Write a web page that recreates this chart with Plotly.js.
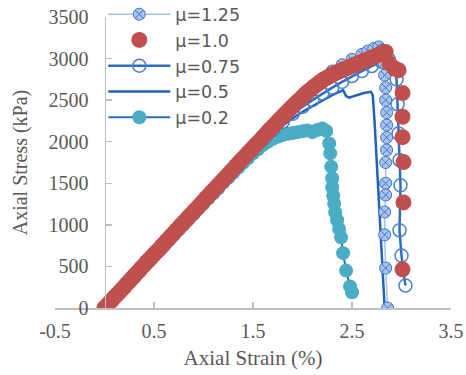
<!DOCTYPE html>
<html>
<head>
<meta charset="utf-8">
<script src="https://cdn.plot.ly/plotly-3.0.1.min.js"></script>
<style>html,body{margin:0;padding:0;background:#fff;}#chart{width:466px;height:375px;}</style>
</head>
<body>
<div id="chart"></div>
<script>
// ---- data (strain %, axial stress kPa) ----
const mu125_x = [0.00,0.10,0.20,0.30,0.40,0.50,0.60,0.70,0.80,0.90,1.00,1.10,1.20,1.30,1.40,1.50,1.60,1.70,1.80,1.90,2.00,2.10,2.20,2.30,2.40,2.50,2.60,2.66,2.72,2.77,2.80,2.82,2.83,2.84,2.84,2.85,2.85,2.85,2.85,2.84,2.84,2.84,2.83,2.83,2.84,2.86];
const mu125_y = [0,130,260,390,520,650,780,905,1035,1165,1290,1420,1550,1680,1805,1935,2060,2185,2310,2430,2550,2660,2760,2850,2925,2990,3050,3090,3120,3140,3100,2950,2800,2650,2500,2350,2200,2050,1900,1750,1500,1360,1155,880,480,0];

const mu10_x = [0.000,0.025,0.050,0.075,0.100,0.125,0.150,0.175,0.200,0.225,0.250,0.275,0.300,0.325,0.350,0.375,0.400,0.425,0.450,0.475,
  0.500,0.525,0.550,0.575,0.600,0.625,0.650,0.675,0.700,0.725,0.750,0.775,0.800,0.825,0.850,0.875,0.900,0.925,0.950,0.975,
  1.000,1.025,1.050,1.075,1.100,1.125,1.150,1.175,1.200,1.225,1.250,1.275,1.300,1.325,1.350,1.375,1.400,1.425,1.450,1.475,
  1.500,1.525,1.550,1.575,1.600,1.625,1.650,1.675,1.700,1.725,1.750,1.775,1.800,1.825,1.850,1.875,1.900,1.925,1.950,1.975,
  2.000,2.025,2.050,2.075,2.100,2.125,2.150,2.175,2.200,2.225,2.250,2.275,2.300,2.325,2.350,2.375,2.400,2.425,2.450,2.475,
  2.500,2.525,2.550,2.575,2.600,2.625,2.650,2.675,2.700,2.725,2.750,2.775,2.800,2.820,2.840,
  2.880,2.930,2.970,3.010,3.010,3.010,3.020,3.020,3.010];
const mu10_y = [0,30,65,95,130,160,190,225,255,290,320,355,385,420,450,485,515,550,580,610,
  645,675,705,740,770,805,835,870,900,935,965,1000,1030,1060,1095,1125,1160,1190,1220,1255,
  1285,1320,1350,1385,1415,1445,1480,1510,1545,1575,1605,1640,1670,1705,1735,1770,1800,1830,1865,1895,
  1925,1960,1990,2020,2055,2085,2120,2150,2180,2210,2245,2275,2305,2335,2365,2395,2425,2455,2485,2510,
  2540,2570,2595,2620,2645,2670,2690,2715,2735,2755,2770,2790,2805,2820,2835,2850,2860,2875,2885,2900,
  2910,2925,2935,2950,2960,2975,2985,3000,3010,3025,3035,3050,3060,3070,3080,
  2940,2880,2860,2585,2300,2055,1755,1270,465];

const mu075_x = [0.00,0.10,0.20,0.30,0.40,0.50,0.60,0.70,0.80,0.90,1.00,1.10,1.20,1.30,1.40,1.50,1.60,1.70,1.80,1.90,2.00,2.10,2.20,2.30,2.40,2.50,2.60,2.70,2.80,2.87,2.92,2.95,2.96,2.97,2.98,2.99,2.98,3.00,3.04];
const mu075_y = [0,128,257,385,514,642,771,899,1028,1156,1285,1413,1540,1665,1790,1910,2025,2135,2240,2335,2420,2500,2580,2650,2720,2790,2850,2910,2960,2990,2900,2750,2450,2100,1780,1475,935,630,270];

const mu05_x = [0.00,0.20,0.40,0.60,0.80,1.00,1.20,1.40,1.60,1.70,1.80,1.90,2.00,2.10,2.20,2.30,2.41,2.44,2.47,2.55,2.62,2.69,2.71,2.73,2.76,2.79,2.81,2.83];
const mu05_y = [0,257,514,771,1028,1283,1538,1785,2010,2110,2200,2280,2360,2430,2500,2560,2620,2550,2530,2560,2585,2600,2560,2200,1540,900,450,0];

const mu02_x = [0.00,0.05,0.10,0.15,0.20,0.25,0.30,0.35,0.40,0.45,0.50,0.55,0.60,0.65,0.70,0.75,0.80,0.85,0.90,0.95,1.00,1.05,1.10,1.15,1.20,1.25,1.30,1.35,1.40,1.45,1.50,1.55,1.60,1.65,1.70,1.75,1.80,1.85,1.90,1.95,2.00,2.05,2.10,2.15,2.20,2.24,2.27,2.28,2.29,2.30,2.30,2.31,2.32,2.33,2.35,2.37,2.39,2.41,2.44,2.48,2.50];
const mu02_y = [0,60,125,185,250,315,375,440,505,565,630,690,755,820,880,945,1005,1070,1130,1195,1255,1320,1380,1440,1505,1565,1625,1685,1745,1800,1860,1910,1960,2000,2035,2060,2080,2095,2105,2115,2125,2135,2115,2140,2160,2130,1980,1860,1700,1560,1450,1350,1255,1150,1055,950,850,660,450,260,190];

const xTicks = [-0.5,0.5,1.5,2.5,3.5];
const yTicks = [0,500,1000,1500,2000,2500,3000,3500];

const serif = 'Liberation Serif, Times New Roman, serif';
const sans = 'DejaVu Sans, Liberation Sans, Arial, sans-serif';
const grey = '#595959';
const axisGrey = '#bfbfbf';

const traces = [
  {name:'μ=0.2', x:mu02_x, y:mu02_y, mode:'lines+markers', legendrank:5,
   line:{color:'#2e6cc0', width:2}, marker:{symbol:'circle', size:14, color:'#4bacc6', line:{width:0}}},
  {name:'μ=0.5', x:mu05_x, y:mu05_y, mode:'lines', legendrank:4,
   line:{color:'#2262b8', width:2.5}},
  {name:'μ=0.75', x:mu075_x, y:mu075_y, mode:'lines+markers', legendrank:3,
   line:{color:'#2e6cc0', width:2.5}, marker:{symbol:'circle-open', size:13, color:'#4a80d2', line:{width:1.5, color:'#4a80d2'}}},
  {name:'μ=1.25', x:mu125_x, y:mu125_y, mode:'lines+markers', legendrank:1,
   line:{color:'#9dc3e6', width:1.5}, marker:{symbol:'circle-x', size:12, color:'#a9c4ec', line:{width:1, color:'#3f74c8'}}},
  {name:'μ=1.0', x:mu10_x, y:mu10_y, mode:'markers', legendrank:2,
   marker:{symbol:'circle', size:16, color:'#c0504d', line:{width:0}}}
];

const layout = {
  width:466, height:375,
  margin:{l:55, r:15, t:17, b:67.3, pad:0, autoexpand:false},
  paper_bgcolor:'#ffffff', plot_bgcolor:'#ffffff',
  showlegend:true,
  legend:{x:0.122, y:1.071, xanchor:'left', yanchor:'top', bgcolor:'rgba(0,0,0,0)',
    font:{family:sans, size:17.5, color:grey}, itemwidth:62, tracegroupgap:0},
  xaxis:{range:[-0.5,3.5], tickvals:xTicks, ticktext:xTicks.map(String),
    showgrid:false, zeroline:false, showline:true, linecolor:axisGrey, linewidth:1.5,
    ticks:'inside', ticklen:6, tickcolor:axisGrey, tickwidth:1.5, ticklabelstandoff:4,
    tickfont:{family:serif, size:20, color:grey},
    title:{text:'Axial Strain (%)', font:{family:serif, size:21, color:grey}, standoff:10}},
  yaxis:{range:[0,3500], tickvals:yTicks, ticktext:yTicks.map(String),
    anchor:'free', position:0.125,
    showgrid:false, zeroline:false, showline:true, linecolor:axisGrey, linewidth:1.5,
    ticks:'inside', ticklen:6, tickcolor:axisGrey, tickwidth:1.5, ticklabelstandoff:12,
    tickfont:{family:serif, size:20, color:grey},
    title:{text:'Axial Stress (kPa)', font:{family:serif, size:20, color:grey}, standoff:14}}
};

Plotly.newPlot('chart', traces, layout, {displayModeBar:false, staticPlot:true});
</script>
</body>
</html>
